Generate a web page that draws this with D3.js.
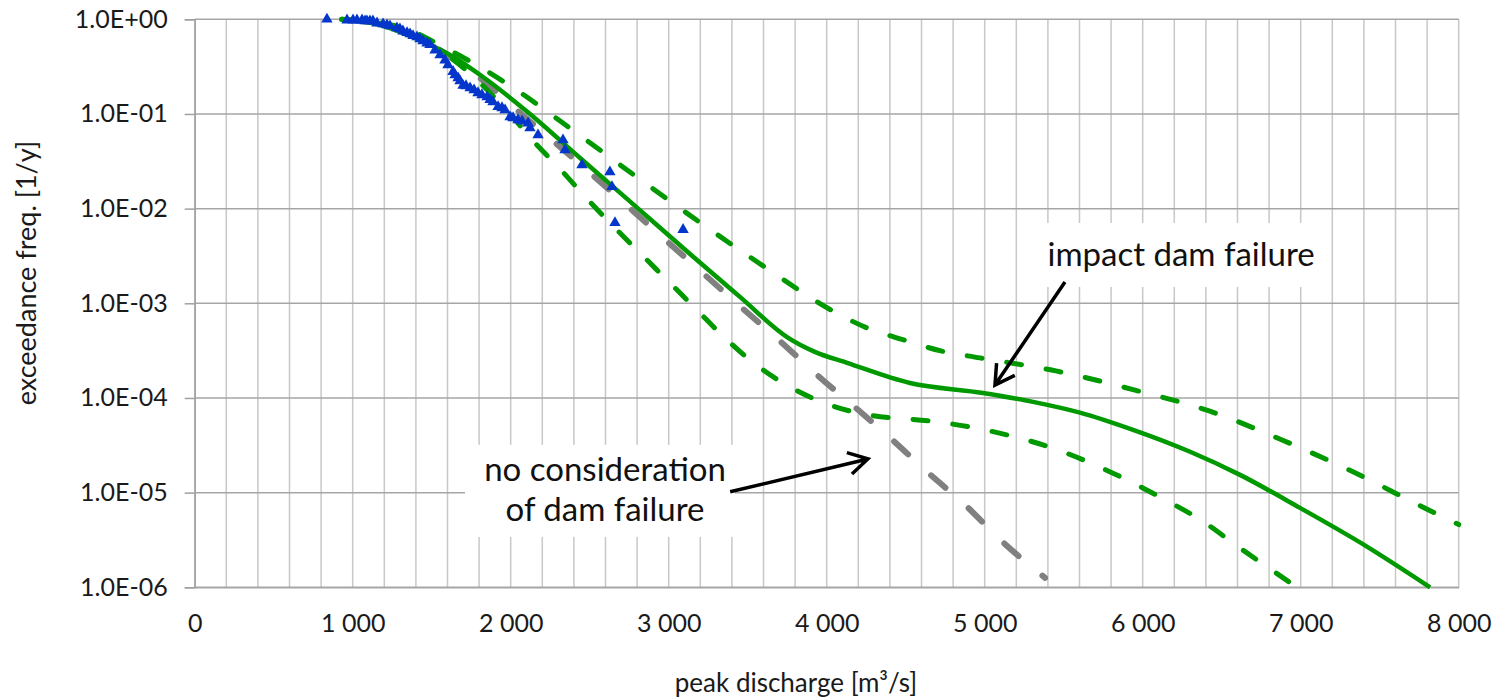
<!DOCTYPE html>
<html>
<head>
<meta charset="utf-8">
<script src="https://cdn.jsdelivr.net/npm/d3@7"></script>
<style>
  body { margin: 0; background: #fff; }
  svg { display: block; font-family: Lato, "Open Sans", sans-serif; }
</style>
</head>
<body>
<div id="corpo"></div>
<script>
// observed peaks (triangles)
var obsQ = [837, 964, 1002, 1027, 1059, 1078, 1090, 1109, 1128, 1154, 1192, 1217, 1236, 1280, 1299, 1318, 1344, 1363, 1382, 1407, 1426, 1445, 1470, 1489, 1521, 1553, 1584, 1603, 1635, 1648, 1667, 1679, 1698, 1717, 1743, 1768, 1793, 1818, 1850, 1869, 1888, 1920, 1945, 1964, 1996, 2015, 2046, 2072, 2110, 2122, 2173, 2331, 2344, 2451, 2628, 2641, 2660, 3091];
var obsF = [1.0, 0.98, 0.98, 0.98, 0.98, 0.96, 0.96, 0.96, 0.96, 0.91, 0.89, 0.87, 0.85, 0.81, 0.79, 0.75, 0.72, 0.70, 0.67, 0.65, 0.62, 0.59, 0.56, 0.54, 0.47, 0.42, 0.37, 0.33, 0.28, 0.258, 0.24, 0.223, 0.20, 0.198, 0.188, 0.179, 0.167, 0.159, 0.151, 0.141, 0.134, 0.119, 0.116, 0.110, 0.093, 0.091, 0.0865, 0.084, 0.080, 0.071, 0.060, 0.053, 0.0417, 0.0289, 0.0244, 0.0170, 0.0071, 0.0060];

// impact dam failure - mean curve
var meanQ = [930, 1173, 1426, 1616, 1825, 2122, 2439, 2787, 3135, 3451, 3749, 3925, 4129, 4527, 4989, 5306, 5603, 5939, 6300, 6616, 6996, 7401, 7819];
var meanF = [1.0, 0.87, 0.60, 0.42, 0.246, 0.1, 0.0343, 0.0107, 0.00332, 0.00117, 4.4e-4, 3.07e-4, 2.35e-4, 1.44e-4, 1.13e-4, 9.1e-5, 7.0e-5, 4.6e-5, 2.7e-5, 1.54e-5, 6.9e-6, 2.81e-6, 1.0e-6];

// upper and lower bounds
var upQ = [930, 1299, 1584, 2008, 2407, 2806, 3211, 3616, 4027, 4255, 4489, 4723, 4970, 5458, 5951, 6420, 6882, 7331, 7768, 8000];
var upF = [1.0, 0.83, 0.50, 0.193, 0.0646, 0.0211, 0.00689, 0.00237, 8.5e-4, 5.5e-4, 4.1e-4, 3.14e-4, 2.65e-4, 1.92e-4, 1.21e-4, 7.3e-5, 3.6e-5, 1.66e-5, 7.1e-6, 4.6e-6];
var loQ = [930, 1299, 1552, 1806, 2027, 2154, 2318, 2489, 2660, 2831, 3008, 3179, 3356, 3546, 3742, 3932, 4223, 4698, 4945, 5186, 5426, 5654, 5901, 6141, 6363, 6616, 6977];
var loF = [1.0, 0.77, 0.47, 0.213, 0.0865, 0.0494, 0.0256, 0.0124, 0.00625, 0.00324, 0.00164, 8.5e-4, 4.3e-4, 2.29e-4, 1.38e-4, 9.6e-5, 6.8e-5, 5.6e-5, 4.8e-5, 3.9e-5, 2.97e-5, 2.11e-5, 1.36e-5, 8.4e-6, 5.2e-6, 2.6e-6, 1.0e-6];

// no consideration of dam failure
var noQ = [1552, 1837, 2059, 2312, 2553, 2781, 3015, 3243, 3477, 3711, 3939, 4167, 4401, 4635, 4888, 5097, 5382];
var noF = [0.474, 0.218, 0.1026, 0.0449, 0.0201, 0.00923, 0.00413, 0.0019, 8.55e-4, 3.9e-4, 1.75e-4, 8.3e-5, 3.8e-5, 1.66e-5, 7.1e-6, 3.2e-6, 1.26e-6];

var xTicks = [0, 1000, 2000, 3000, 4000, 5000, 6000, 7000, 8000];
var yTicks = [1, 1e-1, 1e-2, 1e-3, 1e-4, 1e-5, 1e-6];

var width = 1500, height = 697;
var margin = {left: 194.7, right: 41.3, top: 19.3, bottom: 109.7};

var x = d3.scaleLinear().domain([0, 8000]).range([margin.left, width - margin.right]);
var y = d3.scaleLog().domain([1e-6, 1]).range([height - margin.bottom, margin.top]);

var svg = d3.select("#corpo").append("svg")
    .attr("width", width)
    .attr("height", height);

// vertical grid every 200
svg.append("g").selectAll("line")
    .data(d3.range(0, 8001, 200))
    .enter().append("line")
    .attr("x1", function(d) { return x(d); })
    .attr("x2", function(d) { return x(d); })
    .attr("y1", y(1))
    .attr("y2", y(1e-6))
    .style("stroke", "#c8c8c8")
    .style("stroke-width", 1.5);

// horizontal grid at decades
svg.append("g").selectAll("line")
    .data(yTicks)
    .enter().append("line")
    .attr("x1", x(0))
    .attr("x2", x(8000))
    .attr("y1", function(d) { return y(d); })
    .attr("y2", function(d) { return y(d); })
    .style("stroke", "#a6a6a6")
    .style("stroke-width", 1.5);

// y axis
function sci(v) {
    var e = Math.round(Math.log10(v));
    var s = Math.abs(e) < 10 ? "0" + Math.abs(e) : "" + Math.abs(e);
    return "1.0E" + (e < 0 ? "-" : "+") + s;
}
var yAxis = d3.axisLeft(y).tickValues(yTicks).tickFormat(sci).tickSize(10).tickPadding(17);
var gy = svg.append("g").attr("transform", "translate(" + x(0) + ",0)").call(yAxis);
gy.select(".domain").style("stroke", "#a0a0a0").style("stroke-width", 1.5);
gy.selectAll(".tick line").style("stroke", "#a0a0a0").style("stroke-width", 1.5);
gy.selectAll("text").style("font-family", "Lato").style("font-size", "25px").style("fill", "#1a1a1a");

// x axis labels
var xAxis = d3.axisBottom(x).tickValues(xTicks).tickSize(0).tickPadding(27)
    .tickFormat(function(d) { return d3.format(",")(d).replace(/,/g, " "); });
var gx = svg.append("g").attr("transform", "translate(0," + y(1e-6) + ")").call(xAxis);
gx.select(".domain").style("stroke", "#a6a6a6").style("stroke-width", 1.5);
gx.selectAll("text").style("font-family", "Lato").style("font-size", "25px").style("fill", "#1a1a1a");

// axis titles
svg.append("text")
    .attr("x", 796).attr("y", 692)
    .attr("text-anchor", "middle")
    .style("font-size", "26px").style("fill", "#1a1a1a")
    .text("peak discharge [m³/s]");
svg.append("text")
    .attr("transform", "translate(36,273) rotate(-90)")
    .attr("text-anchor", "middle")
    .style("font-size", "27px").style("fill", "#1a1a1a")
    .text("exceedance freq. [1/y]");

// annotation boxes (behind the curves)
var boxes = [
    {x0: 1711, x1: 3419, y0: 3.2e-5, y1: 3.41e-6},
    {x0: 5236, x1: 7186, y0: 7.06e-3, y1: 1.49e-3}
];
svg.append("g").selectAll("rect")
    .data(boxes)
    .enter().append("rect")
    .attr("x", function(d) { return x(d.x0); })
    .attr("y", function(d) { return y(d.y0); })
    .attr("width", function(d) { return x(d.x1) - x(d.x0); })
    .attr("height", function(d) { return y(d.y1) - y(d.y0); })
    .style("fill", "#fff");

function zip(qs, fs) {
    return qs.map(function(q, i) { return {q: q, f: fs[i]}; });
}
var line = d3.line()
    .x(function(d) { return x(d.q); })
    .y(function(d) { return y(d.f); })
    .curve(d3.curveMonotoneX);

var plot = svg.append("g");

plot.append("path")
    .attr("d", line(zip(noQ, noF)))
    .style("fill", "none")
    .style("stroke", "#808080")
    .style("stroke-width", 6)
    .style("stroke-linecap", "round")
    .style("stroke-dasharray", "19,31");

[zip(upQ, upF), zip(loQ, loF)].forEach(function(s) {
    plot.append("path")
        .attr("d", line(s))
        .style("fill", "none")
        .style("stroke", "#009900")
        .style("stroke-width", 5)
        .style("stroke-linecap", "round")
        .style("stroke-dasharray", "15,25");
});

plot.append("path")
    .attr("d", line(zip(meanQ, meanF)))
    .style("fill", "none")
    .style("stroke", "#009900")
    .style("stroke-width", 4.5);

var tri = d3.symbol().type(d3.symbolTriangle).size(56);
plot.selectAll(".obs")
    .data(zip(obsQ, obsF))
    .enter().append("path")
    .attr("class", "obs")
    .attr("d", tri)
    .attr("transform", function(d) { return "translate(" + x(d.q) + "," + y(d.f) + ")"; })
    .style("fill", "#0536cc");

// annotations
var notes = [
    {lines: ["impact dam failure"], q: 6243, f: 2.47e-3},
    {lines: ["no consideration", "of dam failure"], q: 2597, f: 1.33e-5}
];
notes.forEach(function(n) {
    var t = svg.append("text")
        .attr("x", x(n.q)).attr("y", y(n.f))
        .attr("text-anchor", "middle")
        .style("font-size", "33px").style("fill", "#111");
    n.lines.forEach(function(l, i) {
        t.append("tspan").attr("x", x(n.q)).attr("dy", i == 0 ? 0 : 40).text(l);
    });
});

var arrows = [
    {q0: 5508, f0: 1.68e-3, q1: 5065, f1: 1.37e-4},
    {q0: 3389, f0: 1.02e-5, q1: 4261, f1: 2.27e-5}
];
arrows.forEach(function(a) {
    var x0 = x(a.q0), y0 = y(a.f0), x1 = x(a.q1), y1 = y(a.f1);
    var ang = Math.atan2(y1 - y0, x1 - x0);
    var len = 22, spread = Math.PI / 6;
    var p = "M" + x0 + "," + y0 + "L" + x1 + "," + y1 +
        "M" + (x1 - len * Math.cos(ang - spread)) + "," + (y1 - len * Math.sin(ang - spread)) +
        "L" + x1 + "," + y1 +
        "L" + (x1 - len * Math.cos(ang + spread)) + "," + (y1 - len * Math.sin(ang + spread));
    svg.append("path")
        .attr("d", p)
        .style("fill", "none")
        .style("stroke", "#000")
        .style("stroke-width", 3.5)
        .style("stroke-linejoin", "miter");
});
</script>
</body>
</html>
